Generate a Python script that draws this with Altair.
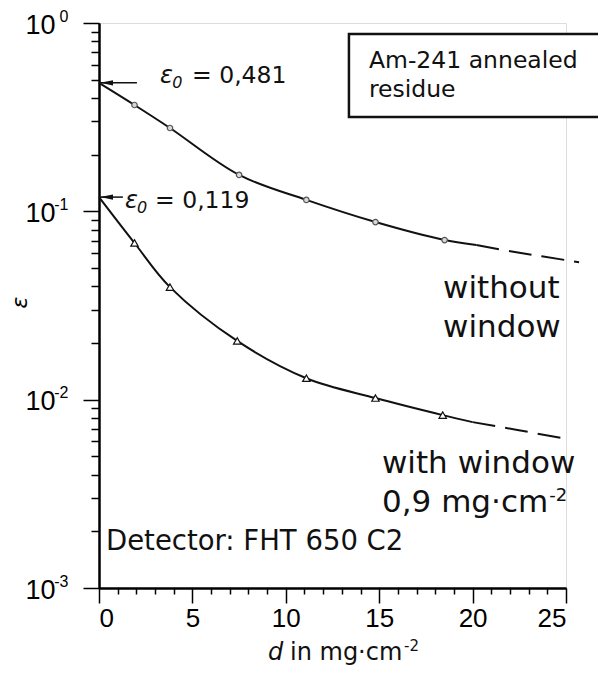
import altair as alt
import pandas as pd

# ---------------- data ----------------
# without window (circles)
up_pts_x = [1.9, 3.8, 7.5, 11.1, 14.8, 18.5]
up_pts_y = [0.367, 0.277, 0.156, 0.115, 0.0877, 0.0704]
up_line_x = [0, 1.9, 3.8, 7.5, 11.1, 14.8, 18.5, 20.2]
up_line_y = [0.481, 0.367, 0.277, 0.156, 0.115, 0.0877, 0.0704, 0.0662]
up_dash_x = [20.2, 22.1, 25.7]
up_dash_y = [0.0662, 0.0612, 0.0537]

# with window (triangles)
lo_pts_x = [1.9, 3.8, 7.4, 11.1, 14.8, 18.4]
lo_pts_y = [0.0679, 0.0396, 0.0205, 0.0130, 0.0102, 0.00828]
lo_line_x = [0, 1.9, 3.8, 7.4, 11.1, 14.8, 18.4, 20.0]
lo_line_y = [0.119, 0.0679, 0.0396, 0.0205, 0.0130, 0.0102, 0.00828, 0.0076]
lo_dash_x = [20.0, 22.4, 24.8]
lo_dash_y = [0.0076, 0.0069, 0.00625]

eps0_values = [0.481, 0.119]
eps0_labels = ["= 0,481", "= 0,119"]

x_major_ticks = [0, 5, 10, 15, 20, 25]
x_minor_ticks = [1, 2, 3, 4, 6, 7, 8, 9, 11, 12, 13, 14, 16, 17, 18, 19, 21, 22, 23, 24]
y_major_ticks = [1, 0.1, 0.01, 0.001]
y_minor_ticks = [0.9, 0.8, 0.7, 0.6, 0.5, 0.4, 0.3, 0.2,
                 0.09, 0.08, 0.07, 0.06, 0.05, 0.04, 0.03, 0.02,
                 0.009, 0.008, 0.007, 0.006, 0.005, 0.004, 0.003, 0.002]

TXT = "DejaVu Sans"
NUM = "Liberation Sans Narrow, Liberation Sans, sans-serif"
W, H = 467, 565

xs = alt.Scale(domain=[0, 25], nice=False, zero=False)
ys = alt.Scale(type="log", domain=[0.001, 1], nice=False)


def X(axis=None, field="x"):
    return alt.X(f"{field}:Q", scale=xs, axis=axis)


def Y(axis=None, field="y"):
    return alt.Y(f"{field}:Q", scale=ys, axis=axis)


common_axis = dict(domainColor="black", tickColor="black", labelColor="black",
                   grid=False, domainWidth=2, tickWidth=1.5)

x_major_axis = alt.Axis(values=x_major_ticks, tickSize=15, labelFont=NUM, labelFontSize=26,
                        labelPadding=2, title=None, orient="bottom", **common_axis)
x_minor_axis = alt.Axis(values=x_minor_ticks, tickSize=6, labels=False, title=None,
                        orient="bottom", **common_axis)
# "10" part of the y labels
y_major_axis = alt.Axis(values=y_major_ticks, tickSize=16, labelFont=NUM, labelFontSize=27,
                        labelPadding=28, orient="left", labelExpr="'10'",
                        labelBaseline="middle", labelOffset=2,
                        title="ε", titleFont=TXT, titleFontStyle="italic", titleFontWeight="normal",
                        titleFontSize=22, titleColor="black", titleX=-80, titleY=279,
                        titleAngle=270, titleAlign="center", titleBaseline="middle",
                        **common_axis)
# exponent part of the y labels
y_exp_axis = alt.Axis(values=y_major_ticks, ticks=False, tickSize=0, domain=False,
                      labelFont=NUM, labelFontSize=16, labelColor="black",
                      labelPadding=31, labelBaseline="middle", labelOffset=-7, orient="left",
                      labelExpr="datum.value >= 1 ? '0' : datum.value >= 0.1 ? '-1' : datum.value >= 0.01 ? '-2' : '-3'",
                      title=None, grid=False)
y_minor_axis = alt.Axis(values=y_minor_ticks, tickSize=8, labels=False, title=None,
                        orient="left", **common_axis)

up_line = pd.DataFrame({"x": up_line_x, "y": up_line_y})
up_dash = pd.DataFrame({"x": up_dash_x, "y": up_dash_y})
lo_line = pd.DataFrame({"x": lo_line_x, "y": lo_line_y})
lo_dash = pd.DataFrame({"x": lo_dash_x, "y": lo_dash_y})
up_pts = pd.DataFrame({"x": up_pts_x, "y": up_pts_y})
lo_pts = pd.DataFrame({"x": lo_pts_x, "y": lo_pts_y})

line_kw = dict(color="#111", strokeWidth=2, interpolate="catmull-rom")

l_up = alt.Chart(up_line).mark_line(**line_kw).encode(x=X(x_major_axis), y=Y(y_major_axis))
l_lo = alt.Chart(lo_line).mark_line(**line_kw).encode(x=X(x_minor_axis), y=Y(y_minor_axis))
d_up = alt.Chart(up_dash).mark_line(strokeDash=[23, 10], **line_kw).encode(x=X(), y=Y(y_exp_axis))
d_lo = alt.Chart(lo_dash).mark_line(strokeDash=[23, 10], **line_kw).encode(x=X(), y=Y())

p_up = alt.Chart(up_pts).mark_point(shape="circle", size=30, filled=True, fill="#d8d8d8",
                                    stroke="#555", strokeWidth=1.2, opacity=1).encode(x=X(), y=Y())
p_lo = alt.Chart(lo_pts).mark_point(shape="triangle-up", size=55, filled=True, fill="white",
                                    stroke="#111", strokeWidth=1.2, opacity=1).encode(x=X(), y=Y())

# arrows to the y axis at epsilon_0
arrows = pd.DataFrame({"x": [0, 0], "x2": [2.03, 1.28], "y": eps0_values})
arrow_lines = alt.Chart(arrows).mark_rule(color="#111", strokeWidth=1.5).encode(
    x=X(), x2="x2:Q", y=Y())
arrow_heads = alt.Chart(pd.DataFrame({"x": [0.4, 0.4], "y": eps0_values})).mark_point(
    shape="M -1 0 L 1 -0.4 L 1 0.4 Z", size=169, filled=True, color="#111", opacity=1
).encode(x=X(), y=Y())

# epsilon_0 labels
eps_sym = alt.Chart(pd.DataFrame({"x": [3.27, 1.39], "y": [0.481, 0.104], "t": ["ε", "ε"]})).mark_text(
    font=TXT, fontSize=24, fontStyle="italic", align="left", baseline="alphabetic", color="#111"
).encode(x=X(), y=Y(), text="t:N")
eps_sub = alt.Chart(pd.DataFrame({"x": [3.92, 2.04], "y": [0.481, 0.104], "t": ["0", "0"]})).mark_text(
    font=TXT, fontSize=16, fontStyle="italic", align="left", baseline="alphabetic", dy=5, color="#111"
).encode(x=X(), y=Y(), text="t:N")
eps_val = alt.Chart(pd.DataFrame({"x": [4.98, 3.0], "y": [0.481, 0.104], "t": eps0_labels})).mark_text(
    font=TXT, fontSize=23.5, align="left", baseline="alphabetic", color="#111"
).encode(x=X(), y=Y(), text="t:N")

# title box
box = alt.Chart(pd.DataFrame({"x": [13.38], "x2": [27.0], "y": [0.874], "y2": [0.317]})).mark_rect(
    fill="white", stroke="#111", strokeWidth=2.5
).encode(x=X(), x2="x2:Q", y=Y(), y2="y2:Q")
box_text = alt.Chart(pd.DataFrame({"x": [14.45], "y": [0.577], "t": ["Am-241 annealed\nresidue"]})).mark_text(
    font=TXT, fontSize=23.5, align="left", baseline="alphabetic", lineBreak="\n", lineHeight=29, color="#111"
).encode(x=X(), y=Y(), text="t:N")

# curve labels
curve_text = alt.Chart(pd.DataFrame({
    "x": [18.42, 15.15, 15.15],
    "y": [0.03464, 0.004074, 0.00253],
    "t": ["without\nwindow", "with window", "0,9 mg·cm"],
})).mark_text(
    font=TXT, fontSize=31, align="left", baseline="alphabetic", lineBreak="\n", lineHeight=39, color="#111"
).encode(x=X(), y=Y(), text="t:N")
curve_sup = alt.Chart(pd.DataFrame({"x": [24.1], "y": [0.00253], "t": ["-2"]})).mark_text(
    font=TXT, fontSize=18, align="left", baseline="alphabetic", dy=-11, color="#111"
).encode(x=X(), y=Y(), text="t:N")

det_text = alt.Chart(pd.DataFrame({"x": [0.375], "y": [0.001589], "t": ["Detector: FHT 650 C2"]})).mark_text(
    font=TXT, fontSize=27.5, align="left", baseline="alphabetic", color="#111"
).encode(x=X(), y=Y(), text="t:N")

# x axis title: italic d + rest + superscript
xt_d = alt.Chart(pd.DataFrame({"t": ["d"]})).mark_text(
    font=TXT, fontSize=24, fontStyle="italic", align="left", baseline="alphabetic", color="#111"
).encode(x=alt.value(169), y=alt.value(637), text="t:N")
xt_rest = alt.Chart(pd.DataFrame({"t": ["in mg·cm"]})).mark_text(
    font=TXT, fontSize=24, align="left", baseline="alphabetic", color="#111"
).encode(x=alt.value(191), y=alt.value(637), text="t:N")
xt_sup = alt.Chart(pd.DataFrame({"t": ["-2"]})).mark_text(
    font=TXT, fontSize=15, align="left", baseline="alphabetic", color="#111"
).encode(x=alt.value(305), y=alt.value(628), text="t:N")

chart = alt.layer(
    l_up, l_lo, d_up, d_lo, p_up, p_lo, arrow_lines, arrow_heads,
    eps_sym, eps_sub, eps_val, box, box_text, curve_text, curve_sup, det_text,
    xt_d, xt_rest, xt_sup
).resolve_axis(x="independent", y="independent").properties(
    width=W, height=H,
    autosize=alt.AutoSizeParams(type="none"),
    padding={"left": 91, "top": 15, "right": 32, "bottom": 81},
).configure_view(stroke=None).configure(background="white")

chart.save("out.html", embed_options={"renderer": "svg", "actions": False})
